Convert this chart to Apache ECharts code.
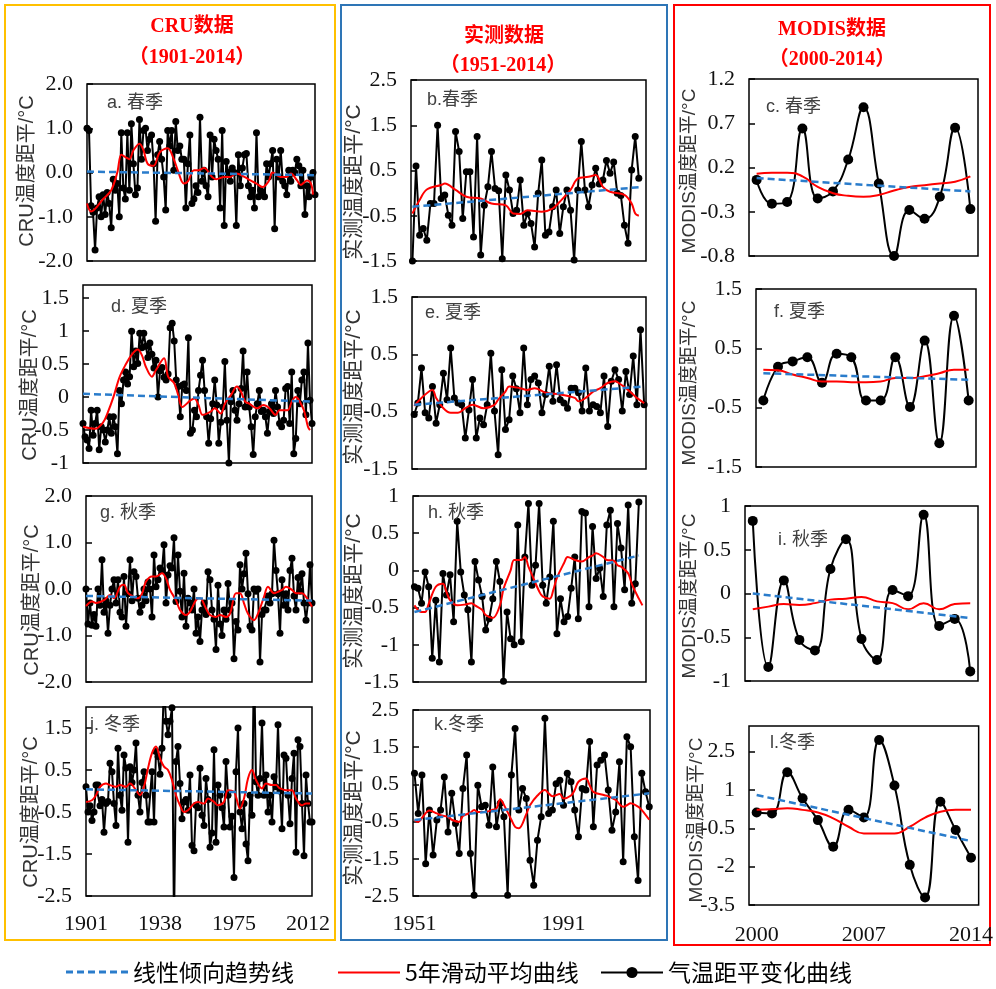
<!DOCTYPE html>
<html><head><meta charset="utf-8">
<script src="https://cdn.jsdelivr.net/npm/echarts@6/dist/echarts.min.js"></script>
<style>html,body{margin:0;padding:0;background:#fff}#c{width:996px;height:989px}</style>
</head><body><div id="c"></div>
<script>
// ---------------- DATA ----------------
const cruStart = 1901, obsStart = 1951, modisStart = 2000;

const cruSpring = [1.0,0.95,-0.75,-0.9,-1.75,-0.8,-0.55,-1.0,-0.5,-0.95,
-0.45,-0.7,-1.25,-0.15,-0.4,-0.25,-1.0,0.9,-0.35,-0.6,
0.9,-0.4,1.1,0.2,-0.5,-0.35,1.2,0.3,0.95,1.0,
0.5,0.75,0.85,0.2,-1.1,0.4,0.7,0.3,-0.1,-0.85,
0.95,0.6,0.95,0.05,1.15,0.5,0.6,0.3,0.3,-0.8,
0.2,0.85,-0.7,-0.6,-0.3,-0.45,1.25,-0.2,0.05,-0.3,
-0.55,0.85,-0.1,0.75,0.5,0.3,-0.8,0.95,-1.2,0.25,
0,-0.2,0.1,0,-1.2,0.4,-0.3,0.1,0.4,0.43,
-0.3,-0.55,-0.4,-0.8,0.9,-0.55,-0.4,-0.45,-0.55,0.2,
-0.1,0.2,0.5,-1.27,0.3,-0.1,0.5,-0.2,-0.3,-0.5,
0.05,-0.2,0.05,0,0.3,0.15,-0.3,0.05,-0.95,-0.3,
-0.55,-0.1,0,-0.5];
const cruSummer = [-0.4,-0.6,-0.65,-0.78,-0.2,-0.58,-0.4,-0.2,-0.8,-0.45,
-0.5,-0.68,-0.5,-0.3,-0.55,-0.3,-0.45,-0.86,0.1,-0.1,
0.26,0.38,0.2,0.31,1.0,0.46,0.7,0.51,0.97,0.75,
0.97,0.77,0.6,0.82,0.65,0.44,0.56,0.0,0.4,0.45,
0.3,0.26,0.35,1.05,1.12,0.85,0.26,0.16,-0.3,0.18,
0.2,0.1,0.9,-0.55,-0.5,-0.2,-0.3,0.1,0.33,0.56,
0.1,-0.3,-0.7,-0.33,-0.1,0.26,-0.12,-0.7,-0.38,-0.15,
0.54,-0.35,-1.0,-0.07,0.1,-0.2,-0.35,-0.1,0.13,0.7,
-0.15,0.38,-0.15,-0.45,-0.87,-0.3,-0.1,0.1,-0.22,-0.2,
-0.3,-0.55,-0.22,-0.1,-0.25,0.1,-0.15,-0.4,-0.45,-0.35,
0.13,0.16,-0.4,0.38,-0.86,-0.63,0.1,-0.1,0.26,0.38,
-0.27,0.82,-0.05,-0.4];
const cruAutumn = [0,-0.75,-0.3,-0.78,-0.55,-0.8,0,-0.35,0.63,-0.5,
-0.25,-0.95,-0.35,0.0,0.2,-0.3,0.2,-0.5,-0.6,0.27,
-0.8,-0.1,0.63,-0.25,0.37,0.27,-0.2,-0.5,-0.35,0.0,
-0.25,0.15,0.0,-0.6,0.73,0.05,0.2,0.45,0.4,0.95,
-0.3,0.3,0.5,0.45,1.1,-0.27,0.73,-0.05,-0.6,0.34,
-0.8,-0.2,-0.3,-0.45,0.0,-0.95,-0.6,-1.13,-0.45,-0.3,
-0.55,0.37,0.2,-0.45,-0.65,-1.3,0.08,-0.75,-1.0,-0.45,
-0.65,0.12,-0.45,-0.3,-1.5,-0.7,-0.88,0.52,0.0,0.33,
0.77,-0.1,-0.8,-0.88,0.0,-0.05,0.0,-1.57,-0.55,-0.45,
-0.45,-0.15,-0.3,-0.1,1.05,0.4,-0.1,-0.95,0.2,-0.35,
-0.1,-0.45,0.4,0.66,-0.15,-0.45,0.25,-0.05,0.33,-0.3,
-0.67,-0.3,0.52,-0.3];
const cruWinter = [0.1,-0.5,-0.35,-0.7,-0.5,0.14,0.14,-0.35,-0.2,-0.98,
-0.3,-0.25,0.66,0.46,-0.3,-0.82,1.02,-0.1,-0.46,0.86,
0.55,-1.22,0.58,0.2,0.5,1.14,-0.1,-0.5,0.2,0.46,
-0.1,-0.74,-0.74,0.46,-0.74,0.94,0.82,0.4,1.02,2.6,
1.66,1.34,1.66,1.98,-3.2,0.7,1.06,0.18,-0.66,-0.26,
-0.2,-0.46,0.38,-1.3,-1.42,-0.34,-0.4,0.54,-0.58,-0.82,
0.3,-0.2,-1.34,-1.0,0.98,-1.22,0.14,-0.1,-0.4,-0.86,
0.7,-0.1,-0.86,-0.6,-2.06,0.46,1.5,-0.5,-0.9,-0.3,
-1.26,-1.66,-0.1,-0.58,3.2,0.22,-0.1,0.3,1.62,-0.1,
0.38,-0.5,-0.1,-0.74,0.34,0.1,1.58,0.0,-0.9,0.86,
0.78,-0.1,-0.78,0.3,0.9,-1.46,1.22,1.06,-0.3,-1.54,
0.38,-0.3,-0.74,-0.74];

const obsSpring = [-1.5,0.6,-0.93,-0.78,-1.04,-0.23,-0.23,1.5,-0.12,-0.04,
-0.49,-0.71,1.36,0.92,-0.56,0.47,0.47,-0.97,1.25,-1.37,
-0.27,0.14,0.92,0.1,0.05,-1.45,0.4,0.07,-0.45,-0.38,
0.29,-0.71,-0.45,-0.67,-1.19,0.0,0.73,-0.93,-0.86,-0.3,
0.07,-0.89,-0.3,0.07,-0.38,-1.48,0.07,1.14,0.07,-0.3,
0.18,0.55,0.2,0.29,0.72,0.44,0.69,0.0,-0.05,-0.71,
-1.11,0.51,1.25,0.33];
const obsSummer = [-0.55,-0.35,0.26,-0.52,-0.61,-0.06,-0.7,-0.38,0.17,-0.29,
0.61,-0.26,-0.35,-0.38,-0.96,-0.47,0.06,-0.96,-0.61,-0.73,
-0.38,0.52,-0.49,-1.25,0.23,-0.81,-0.64,0.12,-0.1,-0.52,
0.61,-0.38,0.06,0.12,0.0,-0.52,-0.2,0.29,-0.32,0.32,
-0.29,-0.35,-0.44,-0.09,-0.09,-0.17,-0.49,0.26,-0.49,-0.38,
-0.41,-0.52,0.12,-0.76,0.03,0.23,0.06,-0.49,0.2,-0.2,
0.47,-0.38,0.93,-0.38];
const obsAutumn = [-0.22,-0.24,-0.44,-0.02,-0.22,-1.18,-0.4,-1.23,-0.04,-0.33,
-0.06,-0.69,0.66,-0.02,-0.33,-0.53,-1.23,0.12,-0.13,-0.35,
-0.8,-0.65,-0.38,0.12,-0.15,-1.49,-0.56,-0.92,-1.0,0.61,
-0.96,0.18,0.9,-0.2,0.07,0.9,-0.2,-0.44,-0.09,0.66,
-0.85,-0.38,-0.69,-0.62,-0.24,0.18,-0.65,0.79,0.77,-0.49,
0.59,-0.11,0.03,-0.35,0.61,0.81,-0.49,0.63,0.3,-0.26,
0.88,-0.44,-0.18,0.92];
const obsWinter = [0.8,-0.28,0.75,-1.63,-0.19,-1.4,-0.46,-0.19,0.7,-0.78,
0.26,-0.55,-1.36,0.39,1.29,-1.36,-2.48,0.48,-0.1,-0.06,
-0.6,0.97,-0.64,-0.01,-0.37,-2.48,0.75,2.0,-0.19,0.39,
0.12,-1.54,-2.21,-1.0,-0.37,2.28,-0.28,-0.19,0.52,0.61,
-0.06,0.8,0.57,-0.19,-0.91,0.39,0.35,1.65,-0.64,1.02,
1.15,1.29,0.35,-0.73,-0.24,1.11,-1.58,1.78,1.51,-0.91,
-2.08,0.8,0.3,-0.1];

const modisSpring = [0.06,-0.21,-0.19,0.64,-0.15,-0.07,0.29,0.88,0.02,-0.8,-0.28,-0.38,-0.13,0.65,-0.27];
const modisSummer = [-0.38,0.19,0.28,0.35,-0.08,0.41,0.35,-0.38,-0.38,0.35,-0.49,0.63,-1.1,1.05,-0.38];
const modisAutumn = [0.83,-0.84,0.15,-0.53,-0.65,0.28,0.62,-0.52,-0.76,0.04,-0.03,0.9,-0.37,-0.29,-0.89];
const modisWinter = [0.12,0.08,1.69,0.67,-0.18,-1.22,0.22,-0.08,2.95,1.17,-1.93,-3.21,0.54,-0.57,-1.65];

// 5-year moving average curves
const maYearsA = [1901,1903,1909,1913,1916,1918,1920,1922,1924,1927,1929,1931,1934,1937,1941,1944,1946,1949,1951,1954,1956,1959,1963,1965,1969,1972,1975,1979,1982,1985,1988,1991,1993,1997,2000,2002,2005,2007,2010,2012,2013];
const maA = [-0.7,-0.88,-0.6,-0.4,0,0.4,0.35,0.3,0.5,0.65,0.5,0.2,0.15,0.45,0.55,0.3,0.05,-0.25,-0.2,0.05,0.05,0.1,-0.1,-0.15,-0.1,-0.1,-0.02,-0.1,-0.18,-0.25,-0.33,-0.2,0,-0.1,-0.1,-0.02,-0.17,-0.28,-0.18,-0.25,-0.5];
const maYearsD = [1901,1907,1911,1913,1916,1919,1922,1925,1928,1930,1932,1935,1937,1941,1943,1946,1948,1950,1954,1956,1958,1960,1964,1966,1969,1971,1974,1977,1979,1981,1983,1987,1990,1993,1996,1998,2002,2004,2006,2007,2010,2012,2013];
const maD = [-0.45,-0.48,-0.38,-0.25,0,0.3,0.49,0.64,0.72,0.64,0.46,0.31,0.41,0.59,0.31,0.21,0.03,-0.15,-0.05,-0.02,-0.12,-0.27,-0.22,-0.17,-0.25,-0.1,0.03,0.16,0.08,-0.07,-0.1,-0.17,-0.12,-0.17,-0.27,-0.2,-0.2,-0.07,0,-0.02,-0.2,-0.45,-0.5];
const maYearsG = [1901,1904,1906,1910,1913,1915,1918,1920,1922,1925,1927,1929,1931,1934,1936,1939,1941,1943,1946,1948,1951,1953,1956,1958,1961,1963,1966,1968,1971,1973,1976,1978,1980,1982,1985,1987,1990,1992,1995,1999,2001,2004,2006,2009,2011,2014];
const maG = [-0.37,-0.27,-0.3,-0.24,-0.13,-0.2,0.05,0.09,-0.09,-0.17,-0.2,-0.1,0.16,0.27,0.27,0.34,0.23,-0.02,-0.24,-0.45,-0.56,-0.49,-0.24,-0.2,-0.42,-0.56,-0.6,-0.56,-0.6,-0.53,-0.09,-0.09,-0.31,-0.53,-0.67,-0.53,-0.17,0.05,-0.09,-0.02,0.05,-0.02,-0.09,-0.09,-0.17,-0.38];
const maYearsJ = [1901,1904,1906,1908,1911,1913,1916,1918,1921,1923,1926,1928,1930,1932,1934,1936,1938,1940,1942,1944,1946,1948,1950,1952,1955,1957,1960,1962,1965,1967,1970,1972,1975,1976,1978,1980,1982,1984,1986,1989,1991,1994,1996,1998,2001,2004,2006,2009,2011,2013];
const maJ = [-0.26,-0.22,-0.1,0.1,0.18,0.14,0.1,0.14,0.1,0.18,0.02,-0.1,0.1,0.54,0.9,1.06,0.78,0.58,0.5,0.26,-0.1,-0.34,-0.5,-0.46,-0.3,-0.26,-0.3,-0.18,-0.26,-0.34,-0.26,0.02,-0.02,-0.14,-0.42,-0.18,0.3,0.5,0.26,0.06,0.18,0.14,0.14,0.06,0.02,0.02,-0.18,-0.34,-0.3,-0.3];
const maYearsB = [1951,1953,1955,1959,1960,1963,1966,1970,1973,1977,1979,1981,1983,1987,1990,1992,1995,1997,2000,2002,2004,2006,2010,2012,2013,2014];
const maB = [-0.45,-0.15,0.08,0.18,0.21,0.07,-0.08,-0.12,-0.23,-0.27,-0.45,-0.46,-0.38,-0.41,-0.34,-0.19,0.07,0.32,0.36,0.4,0.14,0.03,-0.04,-0.23,-0.45,-0.5];
const maYearsE = [1951,1953,1956,1957,1959,1961,1963,1965,1967,1970,1973,1974,1976,1977,1980,1982,1984,1987,1991,1995,1996,1998,2000,2002,2004,2006,2007,2009,2011,2012,2014];
const maE = [-0.4,-0.26,-0.12,-0.26,-0.44,-0.52,-0.52,-0.44,-0.38,-0.44,-0.38,-0.29,-0.15,-0.06,-0.09,-0.12,-0.09,-0.17,-0.2,-0.26,-0.32,-0.26,-0.15,-0.09,0,0.03,0,-0.09,-0.2,-0.26,-0.35];
const maYearsH = [1951,1953,1954,1955,1957,1959,1960,1961,1963,1965,1967,1968,1970,1971,1973,1975,1976,1978,1979,1981,1982,1983,1984,1986,1987,1989,1990,1991,1993,1994,1996,1998,2000,2001,2002,2004,2005,2007,2008,2009,2011,2012,2014,2015];
const maH = [-0.47,-0.56,-0.56,-0.45,-0.22,-0.18,-0.29,-0.4,-0.47,-0.46,-0.44,-0.47,-0.53,-0.6,-0.64,-0.47,-0.25,0.0,0.14,0.14,0.18,0.05,-0.06,-0.28,-0.35,-0.38,-0.26,-0.1,0.1,0.18,0.14,0.12,0.18,0.2,0.23,0.18,0.14,0.13,0.07,0.05,-0.04,-0.18,-0.38,-0.47];
const maYearsK = [1951,1952,1953,1955,1957,1958,1960,1961,1963,1964,1966,1967,1968,1970,1972,1973,1974,1975,1977,1978,1979,1981,1982,1984,1986,1987,1988,1990,1991,1993,1994,1995,1997,1998,1999,2002,2003,2005,2007,2008,2009,2011,2012,2014];
const maK = [-0.46,-0.51,-0.4,-0.2,-0.28,-0.33,-0.37,-0.45,-0.51,-0.35,-0.26,-0.19,-0.24,-0.24,-0.18,-0.15,0.1,-0.05,-0.45,-0.64,-0.68,-0.3,-0.06,0.2,0.35,0.26,0.18,0.24,0.12,0.2,0.35,0.57,0.66,0.48,0.3,0.21,0.18,0.08,-0.1,-0.06,-0.01,-0.1,-0.19,-0.45];
const maC = [0.13,0.14,0.14,0.1,-0.02,-0.09,-0.12,-0.13,-0.11,-0.06,-0.02,0,0.02,0.04,0.1];
const maF = [0.14,0.13,0.06,0,-0.06,-0.06,-0.07,-0.07,-0.06,0,0,0.03,0.08,0.14,0.14];
const maI = [-0.18,-0.15,-0.12,-0.13,-0.11,-0.07,-0.06,-0.04,-0.09,-0.11,-0.18,-0.11,-0.18,-0.12,-0.11];
const maL = [0.22,0.24,0.28,0.22,0.12,-0.11,-0.44,-0.7,-0.7,-0.7,-0.44,-0.08,0.15,0.22,0.22];

// linear trend lines (end points)
const trendYearsCRU = [1901,2014], trendYearsObs = [1951,2014], trendYearsModis = [2000,2014];
const trA = [0.02,-0.06], trD = [0.05,-0.07], trG = [-0.15,-0.25], trJ = [0.04,-0.06];
const trB = [-0.3,0.13], trE = [-0.38,-0.06], trH = [-0.56,0.2], trK = [-0.46,0.26];
const trC = [0.08,-0.07], trF = [0.08,-0.03], trI = [0,-0.28], trL = [0.8,-1.0];

// tick labels
const xTicksCRU = [1901,1938,1975,2012], xTicksObs = [1951,1991], xTicksModis = [2000,2007,2014];
const yTicksA = [-2,-1,0,1,2], yTicksD = [-1,-0.5,0,0.5,1,1.5], yTicksG = [-2,-1,0,1,2], yTicksJ = [-2.5,-1.5,-0.5,0.5,1.5];
const yTicksB = [-1.5,-0.5,0.5,1.5,2.5], yTicksE = [-1.5,-0.5,0.5,1.5], yTicksH = [-1.5,-1,-0.5,0,0.5,1], yTicksK = [-2.5,-1.5,-0.5,0.5,1.5,2.5];
const yTicksC = [-0.8,-0.3,0.2,0.7,1.2], yTicksF = [-1.5,-0.5,0.5,1.5], yTicksI = [-1,-0.5,0,0.5,1], yTicksL = [-3.5,-2,-0.5,1,2.5];

const colTitles = ['CRU温度距平/°C','实测温度距平/°C','MODIS温度距平/°C'];
const legendNames = ['线性倾向趋势线','5年滑动平均曲线','气温距平变化曲线'];

// ---------------- LAYOUT ----------------
const panels = [
 {col:0,label:'a. 春季',lp:[107,103],g:[87,84,228,177],xr:[1901,2014],yr:[-2,2],yt:yTicksA,dec:1,start:cruStart,v:cruSpring,my:maYearsA,mv:maA,ty:trendYearsCRU,tv:trA,tp:[27,171]},
 {col:0,label:'d. 夏季',lp:[111,307],g:[83,285,229,178],xr:[1901,2014],yr:[-1,1.7],yt:yTicksD,dec:0,start:cruStart,v:cruSummer,my:maYearsD,mv:maD,ty:trendYearsCRU,tv:trD,tp:[30,385]},
 {col:0,label:'g. 秋季',lp:[100,513],g:[86,496,226,186],xr:[1901,2014],yr:[-2,2],yt:yTicksG,dec:1,start:cruStart,v:cruAutumn,my:maYearsG,mv:maG,ty:trendYearsCRU,tv:trG,tp:[32,600]},
 {col:0,label:'j. 冬季',lp:[90,725],g:[86,707,226,189],xr:[1901,2014],yr:[-2.5,2.0],yt:yTicksJ,dec:0,start:cruStart,v:cruWinter,my:maYearsJ,mv:maJ,ty:trendYearsCRU,tv:trJ,tp:[31,812],xt:xTicksCRU},
 {col:1,label:'b.春季',lp:[427,100],g:[411,80,235,181],xr:[1950.6,2016],yr:[-1.5,2.5],yt:yTicksB,dec:0,start:obsStart,v:obsSpring,my:maYearsB,mv:maB,ty:trendYearsObs,tv:trB,tp:[354,182]},
 {col:1,label:'e. 夏季',lp:[425,313],g:[412,297,234,172],xr:[1950.4,2014.5],yr:[-1.5,1.5],yt:yTicksE,dec:0,start:obsStart,v:obsSummer,my:maYearsE,mv:maE,ty:trendYearsObs,tv:trE,tp:[354,387]},
 {col:1,label:'h. 秋季',lp:[428,513],g:[413,496,233,186],xr:[1950.6,2016],yr:[-1.5,1],yt:yTicksH,dec:0,start:obsStart,v:obsAutumn,my:maYearsH,mv:maH,ty:trendYearsObs,tv:trH,tp:[354,591]},
 {col:1,label:'k.冬季',lp:[434,725],g:[413,710,237,186],xr:[1950.6,2014.2],yr:[-2.5,2.5],yt:yTicksK,dec:0,start:obsStart,v:obsWinter,my:maYearsK,mv:maK,ty:trendYearsObs,tv:trK,tp:[354,808],xt:xTicksObs},
 {col:2,label:'c. 春季',lp:[766,107],g:[749,79,229,177],xr:[1999.5,2014.5],yr:[-0.8,1.2],yt:yTicksC,dec:0,start:modisStart,v:modisSpring,my:null,mv:maC,ty:trendYearsModis,tv:trC,tp:[690,171]},
 {col:2,label:'f. 夏季',lp:[774,312],g:[756,289,220,178],xr:[1999.5,2014.5],yr:[-1.5,1.5],yt:yTicksF,dec:0,start:modisStart,v:modisSummer,my:null,mv:maF,ty:trendYearsModis,tv:trF,tp:[690,383]},
 {col:2,label:'i. 秋季',lp:[778,540],g:[745,506,233,175],xr:[1999.5,2014.5],yr:[-1,1],yt:yTicksI,dec:0,start:modisStart,v:modisAutumn,my:null,mv:maI,ty:trendYearsModis,tv:trI,tp:[690,596]},
 {col:2,label:'l.冬季',lp:[770,743],g:[749,726,230,179],xr:[1999.5,2014.5],yr:[-3.5,3.5],yt:yTicksL,dec:0,start:modisStart,v:modisWinter,my:null,mv:maL,ty:trendYearsModis,tv:trL,tp:[697,820],xt:xTicksModis}
];

const SERIF = "'Liberation Serif','Times New Roman','Noto Sans CJK SC',serif";
const SANS = "'Liberation Sans','Noto Sans CJK SC',sans-serif";
const CJKSANS = "'Noto Sans CJK SC','Liberation Sans',sans-serif";
const BLUE = '#2a7ccb', RED = '#ff0000';

const grid = [], xAxis = [], yAxis = [], series = [], graphic = [];

// frames
graphic.push({type:'rect',shape:{x:5,y:5,width:330,height:935},style:{fill:'none',stroke:'#FFC000',lineWidth:2},z:-1});
graphic.push({type:'rect',shape:{x:341,y:5,width:326,height:935},style:{fill:'none',stroke:'#2E75B6',lineWidth:2},z:-1});
graphic.push({type:'rect',shape:{x:674,y:5,width:316,height:940},style:{fill:'none',stroke:'#FF0000',lineWidth:2},z:-1});

function headText(t, x, y, size){
  graphic.push({type:'text',x:x,y:y,style:{text:t,fill:RED,font:'bold '+size+'px '+SERIF,align:'center',verticalAlign:'middle',textAlign:'center',textVerticalAlign:'middle'}});
}
headText('CRU数据',192,27,20); headText('（1901-2014）',192,58,20);
headText('实测数据',504,37,20); headText('（1951-2014）',503,66,20);
headText('MODIS数据',832,30,20); headText('（2000-2014）',832,60,20);

panels.forEach((p,i)=>{
  grid.push({left:p.g[0],top:p.g[1],width:p.g[2],height:p.g[3],show:true,borderColor:'#000',borderWidth:1.5,backgroundColor:'transparent'});
  xAxis.push({gridIndex:i,type:'value',min:p.xr[0],max:p.xr[1],
    axisLine:{show:false},axisTick:{show:false},splitLine:{show:false},
    axisLabel: p.xt ? {show:true,customValues:p.xt,margin:p.col===2?19:17,fontSize:22,color:'#111',fontFamily:SERIF,formatter:v=>String(v),showMinLabel:true,showMaxLabel:true}
                    : {show:false}});
  const dec = p.dec;
  yAxis.push({gridIndex:i,type:'value',min:p.yr[0],max:p.yr[1],
    axisLine:{show:false},splitLine:{show:false},
    axisTick:{show:true,inside:true,length:6,customValues:p.yt,lineStyle:{color:'#000',width:1.5}},
    axisLabel:{customValues:p.yt,margin:14,fontSize:22,color:'#111',fontFamily:SERIF,showMinLabel:true,showMaxLabel:true,
      formatter:v=> dec ? v.toFixed(dec) : String(Math.round(v*10)/10)}});
  const isM = p.col===2;
  series.push({type:'line',name:legendNames[2],xAxisIndex:i,yAxisIndex:i,
    data:p.v.map((v,k)=>[p.start+k,v]),
    symbol:'circle',symbolSize:isM?10:7,showAllSymbol:true,smooth:isM?0.45:false,
    lineStyle:{color:'#000',width:2},itemStyle:{color:'#000'},z:2,animation:false});
  const my = p.my || p.v.map((v,k)=>p.start+k);
  series.push({type:'line',name:legendNames[1],xAxisIndex:i,yAxisIndex:i,
    data:my.map((y,k)=>[y,p.mv[k]]),symbol:'none',smooth:isM?0.5:0.35,
    lineStyle:{color:RED,width:2},itemStyle:{color:RED},z:3,animation:false});
  series.push({type:'line',name:legendNames[0],xAxisIndex:i,yAxisIndex:i,
    data:p.ty.map((y,k)=>[y,p.tv[k]]),symbol:'none',
    lineStyle:{color:BLUE,width:2.5,type:[7,4]},itemStyle:{color:BLUE},z:4,animation:false});
  graphic.push({type:'text',x:p.lp[0],y:p.lp[1],style:{text:p.label,fill:'#404040',font:'18px '+SANS,align:'left',verticalAlign:'middle',textAlign:'left',textVerticalAlign:'middle'},z:10});
  const fs = p.col===0?20:(p.col===1?21:19);
  graphic.push({type:'text',x:p.tp[0],y:p.tp[1],rotation:Math.PI/2,style:{text:colTitles[p.col],fill:'#333',font:fs+'px '+SANS,align:'center',verticalAlign:'middle',textAlign:'center',textVerticalAlign:'middle'},z:10});
});

const legTxt = {fontSize:23,color:'#000',fontFamily:CJKSANS};
const dashIcon = 'path://M0,0h7v3h-7z M11,0h7v3h-7z M22,0h7v3h-7z M33,0h7v3h-7z M44,0h7v3h-7z M55,0h7v3h-7z';
const solidIcon = 'path://M0,0h62v2h-62z';
const legend = [
  {data:[legendNames[0]],icon:dashIcon,left:66,top:960.5,padding:0,itemWidth:62,itemHeight:3,itemTextGap:10,selectedMode:false,textStyle:legTxt},
  {data:[legendNames[1]],icon:solidIcon,left:338,top:961,padding:0,itemWidth:62,itemHeight:2,itemTextGap:10,selectedMode:false,textStyle:legTxt},
  {data:[legendNames[2]],left:600,top:961,padding:0,itemWidth:62,itemHeight:14,itemTextGap:10,selectedMode:false,textStyle:legTxt}
];

const chart = echarts.init(document.getElementById('c'), null, {renderer:'canvas'});
chart.setOption({backgroundColor:'#fff',animation:false,grid,xAxis,yAxis,series,legend,graphic});
</script></body></html>
